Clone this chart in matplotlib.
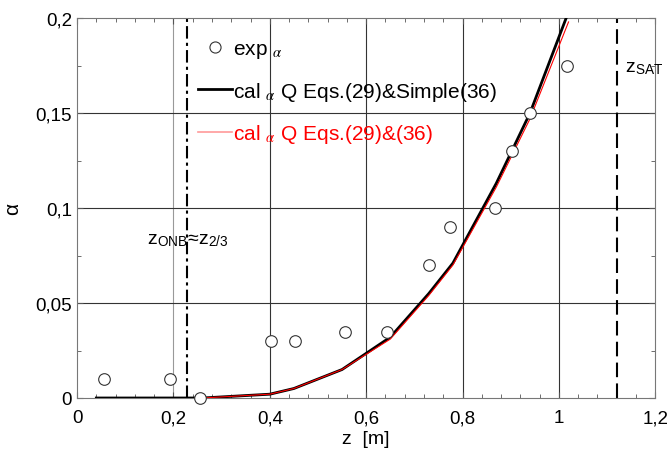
import matplotlib
matplotlib.use("Agg")
import matplotlib.pyplot as plt
from matplotlib.ticker import MultipleLocator, FuncFormatter
from matplotlib.lines import Line2D

plt.rcParams['font.family'] = ['Liberation Sans', 'DejaVu Sans']
plt.rcParams['mathtext.fontset'] = 'stix'

# experimental data
z_exp = [0.056, 0.193, 0.255, 0.403, 0.452, 0.556, 0.643, 0.730, 0.774, 0.867, 0.902, 0.940, 1.017]
a_exp = [0.010, 0.010, 0.000, 0.030, 0.030, 0.035, 0.035, 0.070, 0.090, 0.100, 0.130, 0.150, 0.175]

# calculated curves
z_cal = [0.04, 0.26, 0.40, 0.45, 0.55, 0.65, 0.73, 0.78, 0.87, 0.94, 1.015]
a_simple = [0.0, 0.0, 0.002, 0.005, 0.015, 0.032, 0.055, 0.071, 0.113, 0.150, 0.200]
z_cal2 = [0.26, 0.40, 0.45, 0.55, 0.65, 0.73, 0.78, 0.87, 0.94, 1.02]
a_full = [0.0, 0.002, 0.005, 0.015, 0.031, 0.054, 0.070, 0.111, 0.147, 0.198]

z_onb = 0.228
z_sat = 1.12

xticks = [0, 0.2, 0.4, 0.6, 0.8, 1.0, 1.2]
yticks = [0, 0.05, 0.1, 0.15, 0.2]

fig = plt.figure(figsize=(6.7, 4.56), dpi=100)
ax = fig.add_axes([0.115, 0.125, 0.863, 0.833])

ax.set_xlim(0, 1.2)
ax.set_ylim(0, 0.2)

# grid
for x in xticks[2:-1]:
    ax.axvline(x, color='#333333', lw=0.8, zorder=1)
ax.axvline(0.2, color='#999999', lw=0.8, zorder=1)
for y in yticks[1:-1]:
    ax.axhline(y, color='#333333', lw=0.8, zorder=1)

ax.axvline(z_onb, color='black', lw=1.5, ls=(0, (6, 2, 1.5, 2)), zorder=2)
ax.axvline(z_sat, color='black', lw=1.5, ls=(0, (7, 3)), zorder=2)

ax.plot(z_cal, a_simple, color='black', lw=2.0, zorder=3)
ax.plot(z_cal2, a_full, color='red', lw=0.8, zorder=4)
ax.scatter(z_exp, a_exp, s=70, facecolors='white', edgecolors='#333333', linewidths=0.8, zorder=5, clip_on=False)

def fmt(v, pos):
    s = ('%.2f' % v).rstrip('0').rstrip('.')
    return s.replace('.', ',')

ax.set_xticks(xticks)
ax.set_yticks(yticks)
ax.xaxis.set_major_formatter(FuncFormatter(fmt))
ax.yaxis.set_major_formatter(FuncFormatter(fmt))
ax.xaxis.set_minor_locator(MultipleLocator(0.04))
ax.yaxis.set_minor_locator(MultipleLocator(0.025))
ax.tick_params(which='both', direction='in', top=True, right=True, colors='#555555', labelcolor='black', labelsize=13.5)
ax.tick_params(axis='x', which='major', pad=8)
ax.tick_params(which='major', length=4)
ax.tick_params(which='minor', length=3)
for sp in ax.spines.values():
    sp.set_color('#777777')
    sp.set_linewidth(0.8)

ax.set_xlabel('z  [m]', fontsize=14, labelpad=3)
ax.set_ylabel('α', fontsize=15, labelpad=10)

handles = [
    Line2D([], [], ls='none', marker='o', markersize=8, markerfacecolor='white', markeredgecolor='#333333', markeredgewidth=0.8),
    Line2D([], [], color='black', lw=2.0),
    Line2D([], [], color='#ff9999', lw=1.2),
]
labels = [r'exp $_{\alpha}$', r'cal $_{\alpha}$ Q Eqs.(29)&Simple(36)', r'cal $_{\alpha}$ Q Eqs.(29)&(36)']
leg = ax.legend(handles, labels, loc='upper left', bbox_to_anchor=(0.176, 0.995), frameon=False,
                fontsize=15, labelspacing=0.95, handlelength=1.65, handletextpad=0.05)
leg.get_texts()[2].set_color('red')

ax.text(0.23, 0.0835, r'z$_{\mathregular{ONB}}$≈z$_{\mathregular{2/3}}$', fontsize=14, ha='center', va='center', zorder=6)
ax.text(1.177, 0.174, r'z$_{\mathregular{SAT}}$', fontsize=14, ha='center', va='center', zorder=6)

fig.savefig('out.png', dpi=100, facecolor='white')
